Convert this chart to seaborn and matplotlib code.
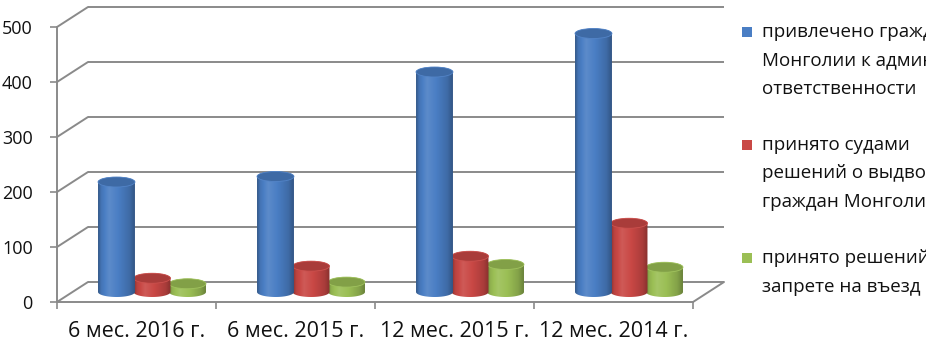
import numpy as np
import pandas as pd
import matplotlib
matplotlib.use("Agg")
import matplotlib.pyplot as plt
import seaborn as sns
from matplotlib.patches import Polygon, Ellipse, Rectangle
from matplotlib.colors import to_rgb

# ---- data ----
periods = ["6 мес. 2016 г.", "6 мес. 2015 г.", "12 мес. 2015 г.", "12 мес. 2014 г."]
attracted = [200, 210, 400, 470]   # blue
expelled = [25, 47, 65, 125]       # red
banned = [15, 18, 50, 45]          # green
series_names = [
    "привлечено граждан\nМонголии к административной\nответственности",
    "принято судами\nрешений о выдворении\nграждан Монголии",
    "принято решений о\nзапрете на въезд",
]
series_colors = ["#4A7EC4", "#C94845", "#9BBF55"]
y_ticks = [0, 100, 200, 300, 400, 500]

df = pd.DataFrame({
    "period": periods * 3,
    "value": attracted + expelled + banned,
    "series": [s for s in series_names for _ in periods],
})

sns.set_theme(style="white")
plt.rcParams["font.family"] = ["Open Sans", "DejaVu Sans"]

W, H = 926, 340
fig = plt.figure(figsize=(W / 100, H / 100), dpi=100)
# axes = front plane of the 3D box
ax = fig.add_axes([57 / W, (H - 302) / H, 636 / W, 275 / H])

sns.barplot(data=df, x="period", y="value", hue="series", hue_order=series_names,
            palette=series_colors, width=0.67, saturation=1, errorbar=None,
            legend=False, ax=ax)

PX_X = 636 / 4      # pixels per category
PX_Y = 275 / 500    # pixels per unit
DX = 31 / PX_X      # depth offset of back wall
DY = 20 / PX_Y
grid_c = "#8A8A8A"

# ---- back wall, side wall and floor ----
for v in y_ticks:
    ax.plot([-0.5 + DX, 3.5 + DX], [v + DY, v + DY], color=grid_c, lw=1.4,
            clip_on=False, zorder=1, solid_capstyle="butt")
    ax.plot([-0.5, -0.5 + DX], [v, v + DY], color=grid_c, lw=1.4,
            clip_on=False, zorder=1)
ax.plot([3.5, 3.5 + DX], [0, DY], color=grid_c, lw=1.4, clip_on=False, zorder=1)


# ---- cylinders built on top of seaborn's bars ----
def shade(base, s):
    base = np.array(base)
    if s <= 1:
        return base * s
    return base + (1 - base) * (s - 1)


ry = 5 / PX_Y
tt = np.linspace(0, 1, 80)
profile = np.interp(tt, [0, 0.08, 0.3, 0.55, 0.85, 1.0],
                    [0.70, 0.92, 1.10, 1.0, 0.85, 0.68])
n_per = len(periods)
for i, p in enumerate(ax.patches):
    k = i // n_per
    base = to_rgb(series_colors[k])
    h = p.get_height()
    w = p.get_width() * 1.04
    cx = p.get_x() + p.get_width() / 2 + DX / 2
    y0 = DY / 2
    p.set_visible(False)
    z = 5 - k

    t_top = np.linspace(0, np.pi, 40)
    t_bot = np.linspace(np.pi, 2 * np.pi, 40)
    xs = np.concatenate([cx + w / 2 * np.cos(t_top), cx + w / 2 * np.cos(t_bot)])
    ys = np.concatenate([y0 + h + ry * np.sin(t_top), y0 + ry * np.sin(t_bot)])
    poly = Polygon(np.column_stack([xs, ys]), closed=True, facecolor="none",
                   edgecolor="none", zorder=z)
    ax.add_patch(poly)

    grad = np.array([shade(base, s) for s in profile])[np.newaxis, :, :]
    im = ax.imshow(grad, extent=[cx - w / 2, cx + w / 2, y0 - ry, y0 + h + ry],
                   aspect="auto", interpolation="bilinear", zorder=z)
    im.set_clip_path(poly)

    cap = Ellipse((cx, y0 + h), w, 2 * ry, facecolor=shade(base, 0.84),
                  edgecolor=shade(base, 1.05), lw=0.6, zorder=z + 0.5)
    ax.add_patch(cap)

ax.set_xlim(-0.5, 3.5)
ax.set_ylim(0, 500)

# ---- axes styling ----
for side in ["top", "right"]:
    ax.spines[side].set_visible(False)
for side in ["left", "bottom"]:
    ax.spines[side].set_color(grid_c)
    ax.spines[side].set_linewidth(1.4)
ax.set_xlabel("")
ax.set_ylabel("")
ax.set_yticks(y_ticks)
ax.set_yticklabels([str(v) for v in y_ticks])
ax.set_xticks(range(len(periods)))
ax.set_xticklabels(periods)
ax.set_xticks(np.arange(-0.5, len(periods), 1.0), minor=True)
ax.tick_params(axis="y", which="major", direction="out", length=5, width=1.2,
               color=grid_c, pad=12.5, labelsize=13, labelcolor="#111111", left=True)
ax.tick_params(axis="x", which="major", length=0, pad=13.5, labelsize=15.5,
               labelcolor="#111111")
ax.tick_params(axis="x", which="minor", direction="out", length=5, width=1.2,
               color=grid_c, bottom=True)

# ---- legend (cut by the right edge, as in the source image) ----
legend_tops = [32, 145, 258]
for name, col, y_px in zip(series_names, series_colors, legend_tops):
    fig.patches.append(Rectangle((742 / W, 1 - (y_px + 5) / H), 10 / W, 10 / H,
                                 transform=fig.transFigure, facecolor=col,
                                 edgecolor="none"))
    for j, line in enumerate(name.split("\n")):
        fig.text(762 / W, 1 - (y_px + j * 28.5) / H, line, fontsize=13.5,
                 color="#111111", va="center", ha="left")

fig.savefig("out.png", dpi=100)
